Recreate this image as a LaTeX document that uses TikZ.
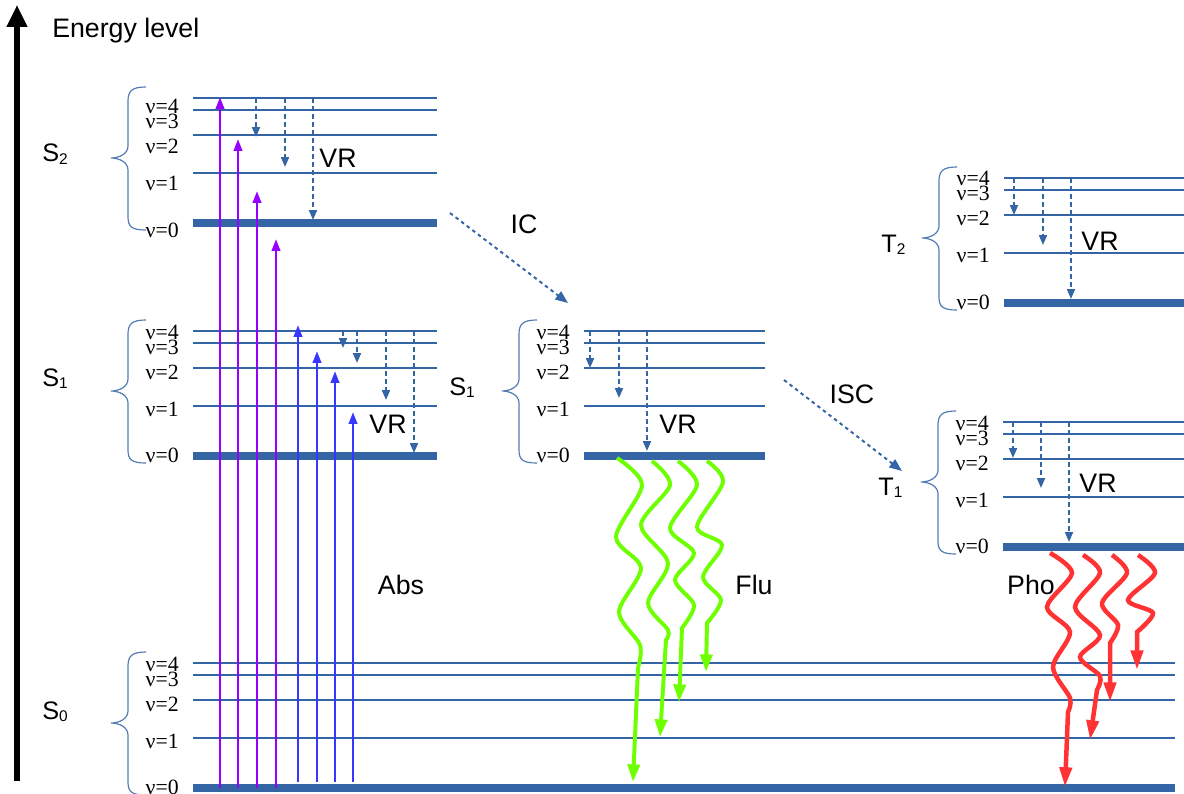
\documentclass[tikz,border=0pt]{standalone}
\usepackage{fontspec}
\setmainfont{Liberation Sans}
\newfontfamily\nufont{Liberation Serif}
\usetikzlibrary{arrows.meta}

\definecolor{nivel}{RGB}{52,101,164}
\definecolor{violeta}{RGB}{150,0,255}
\definecolor{azulabs}{RGB}{55,55,255}
\definecolor{verdeflu}{RGB}{110,255,0}
\definecolor{rojopho}{RGB}{255,51,51}

\tikzset{
  linea/.style={nivel, line width=1.9pt},
  fund/.style={nivel, line width=6pt},
  etiq/.style={font=\nufont\fontsize{15.5}{16}\selectfont, inner sep=0pt, anchor=base east},
  llave/.style={nivel!85, line width=0.85pt},
  texto/.style={font=\fontsize{19}{22}\selectfont, inner sep=0pt, anchor=base},
  estado/.style={font=\fontsize{18}{20}\selectfont, inner sep=0pt, anchor=base west},
  abs/.style={line width=1.8pt, -{Triangle[length=8.5pt,width=6pt]}},
  vr/.style={nivel, line width=1.4pt, dash pattern=on 3.5pt off 2.2pt, -{Triangle[length=7pt,width=5.6pt]}},
  cruce/.style={nivel, line width=1.4pt, dash pattern=on 2.5pt off 2.5pt, -{Triangle[length=9pt,width=7pt]}},
  flu/.style={verdeflu, line width=2.8pt, -{Triangle[length=12.5pt,width=8.5pt]}},
  pho/.style={rojopho, line width=3.2pt, -{Triangle[length=14pt,width=8.5pt]}},
}

\newcommand{\subi}[1]{\raisebox{-1.5pt}{\fontsize{11}{11}\selectfont #1}}

% grupo de niveles: nombre, x inicial, x final, y de v=0, desplazamiento etiquetas
\newcommand{\grupo}[5]{%
  \foreach \nv/\dy/\ly in {1/50/-40, 2/88/-77, 3/113/-102, 4/125/-117}{
    \draw[linea] (#2,#4-\dy) coordinate (#1v\nv) -- (#3,#4-\dy);
    \node[etiq] (#1l\nv) at (#2-14,#4+\ly+#5) {ν=\nv};
  }
  \draw[fund] (#2,#4) coordinate (#1v0) -- (#3,#4);
  \node[etiq] (#1l0) at (#2-14,#4+6+#5) {ν=0};
  % llave
  \draw[llave] (#2-47,#4-136) .. controls (#2-61,#4-136) and (#2-65,#4-132) .. (#2-65,#4-122)
     -- (#2-65,#4-77) .. controls (#2-65,#4-69) and (#2-74,#4-65) .. (#2-82,#4-65)
     .. controls (#2-74,#4-65) and (#2-65,#4-61) .. (#2-65,#4-53)
     -- (#2-65,#4-6) .. controls (#2-65,#4+4) and (#2-61,#4+7) .. (#2-47,#4+7);
}

\begin{document}
\begin{tikzpicture}[x=0.025cm, y=-0.025cm]
  \useasboundingbox (0,0) rectangle (1184,794);

  % Eje de energía
  \draw[line width=3.6pt, -{Triangle[length=15.6pt,width=14pt]}] (17,781) -- (17,5);
  \node[texto, anchor=base west] (ejey) at (52,38) {Energy level};

  % Niveles
  \grupo{S2}{193}{437}{223}{8}
  \grupo{S1}{193}{437}{456}{0}
  \grupo{S0}{193}{1175}{788}{0}
  \grupo{S1m}{584}{765}{456}{0}
  \grupo{T2}{1004}{1184}{303}{0}
  \grupo{T1}{1003}{1184}{547}{0}

  % Nombres de los estados
  \node[estado] (nS2) at (42,162) {S\subi{2}};
  \node[estado] (nS1) at (42,386) {S\subi{1}};
  \node[estado] (nS0) at (42,719) {S\subi{0}};
  \node[estado] (nS1m) at (449,395) {S\subi{1}};
  \node[estado] (nT2) at (881,252) {T\subi{2}};
  \node[estado] (nT1) at (878,495) {T\subi{1}};

  % Absorción
  \foreach \x/\yt in {220/97, 238/139, 257/191, 276/239}
    \draw[abs, violeta] (\x,0 |- S0v0) -- (\x,\yt);
  \foreach \x/\yt in {298/325, 317/351, 335/371, 353/412}
    \draw[abs, azulabs] (\x,782) -- (\x,\yt);

  % Relajación vibracional
  \foreach \x/\yb in {256/137, 285/167, 313/220}
    \draw[vr] (\x,0 |- S2v4) -- (\x,\yb);
  \foreach \x/\yb in {343/348, 357/363, 386/400, 414/453}
    \draw[vr] (\x,0 |- S1v4) -- (\x,\yb);
  \foreach \x/\yb in {590/368, 619/398, 647/451}
    \draw[vr] (\x,0 |- S1mv4) -- (\x,\yb);
  \foreach \x/\yb in {1014/215, 1043/245, 1071/299}
    \draw[vr] (\x,0 |- T2v4) -- (\x,\yb);
  \foreach \x/\yb in {1013/458, 1041/488, 1069/542}
    \draw[vr] (\x,0 |- T1v4) -- (\x,\yb);

  % IC e ISC
  \coordinate (icA) at (450,213);
  \coordinate (icB) at (568,303);
  \coordinate (iscA) at (784,380);
  \coordinate (iscB) at (902,471);
  \draw[cruce] (icA) -- (icB);
  \draw[cruce] (iscA) -- (iscB);

  % Fluorescencia
  \draw[flu] plot[smooth] coordinates {(617,458) (642,485) (616,537) (641,568) (619,612) (640,645) (638,668)} -- (633,782);
  \draw[flu] plot[smooth] coordinates {(652,461) (670,485) (641,525) (668,563) (648,603) (668,630) (666,640)} -- (660,737);
  \draw[flu] plot[smooth] coordinates {(678,461) (697,485) (670,528) (694,553) (675,580) (694,605) (682,628)} -- (679,702);
  \draw[flu] plot[smooth] coordinates {(707,461) (723,482) (697,527) (722,545) (703,577) (721,600) (707,623)} -- (706,672);

  % Fosforescencia
  \draw[pho] plot[smooth] coordinates {(1050,553) (1072,573) (1047,607) (1070,632) (1053,667) (1070,698) (1068,712)} -- (1065,787);
  \draw[pho] plot[smooth] coordinates {(1083,555) (1100,573) (1075,607) (1100,635) (1080,657) (1100,676) (1097,690)} -- (1090,740);
  \draw[pho] plot[smooth] coordinates {(1112,555) (1127,573) (1102,603) (1118,625) (1110,643)} -- (1110,702);
  \draw[pho] plot[smooth] coordinates {(1138,555) (1155,573) (1128,600) (1153,613) (1137,632)} -- (1137,670);

  % Etiquetas
  \node[texto] (vrS2) at (338,168) {VR};
  \node[texto] (vrS1) at (388,433) {VR};
  \node[texto] (vrS1m) at (678,433) {VR};
  \node[texto] (vrT2) at (1100,250) {VR};
  \node[texto] (vrT1) at (1098,492) {VR};
  \node[texto] (ic) at (524,233) {IC};
  \node[texto] (isc) at (852,403) {ISC};
  \node[texto] (abs) at (401,594) {Abs};
  \node[texto] (flu) at (754,594) {Flu};
  \node[texto] (pho) at (1031,594) {Pho};
\end{tikzpicture}
\end{document}
